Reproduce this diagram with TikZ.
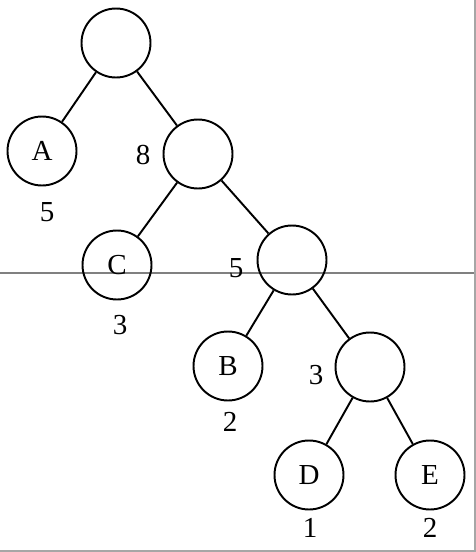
\documentclass[tikz,border=0pt]{standalone}
\usepackage{fontspec}
\setmainfont{Liberation Serif}
\tikzset{
  vertex/.style={circle, draw, line width=1.1pt, minimum size=1.38cm, inner sep=0pt, font=\fontsize{16.5}{18}\selectfont},
  weight/.style={font=\fontsize{16.5}{18}\selectfont, inner sep=0pt}
}
\begin{document}
\begin{tikzpicture}[x=0.02cm, y=-0.02cm]
    \useasboundingbox (0,0) rectangle (476,552);
    % scan lines of the page
    \draw[gray, line width=0.6pt] (0,273) -- (476,273);
    \draw[gray!70, line width=0.8pt] (475,0) -- (475,551) -- (0,551);

    % Tree nodes, top to bottom
    \node[vertex] (R) at (116, 43) {};
    \node[vertex] (A) at (42, 151) {A};
    \node[vertex] (N8) at (198, 154) {};
    \node[vertex] (C) at (117, 265) {C};
    \node[vertex] (N5) at (292, 260) {};
    \node[vertex] (B) at (228, 366) {B};
    \node[vertex] (N3) at (370, 367) {};
    \node[vertex] (D) at (309, 475) {D};
    \node[vertex] (E) at (430, 475) {E};

    % Weights
    \node[weight] (wA) at (47, 212) {5};
    \node[weight] (w8) at (143, 155) {8};
    \node[weight] (wC) at (120, 325) {3};
    \node[weight] (w5) at (236, 268) {5};
    \node[weight] (wB) at (230, 422) {2};
    \node[weight] (w3) at (316, 375) {3};
    \node[weight] (wD) at (310, 528) {1};
    \node[weight] (wE) at (430, 528) {2};

    % Edges
    \draw[line width=1.1pt] (R) -- (A);
    \draw[line width=1.1pt] (R) -- (N8);
    \draw[line width=1.1pt] (N8) -- (C);
    \draw[line width=1.1pt] (N8) -- (N5);
    \draw[line width=1.1pt] (N5) -- (B);
    \draw[line width=1.1pt] (N5) -- (N3);
    \draw[line width=1.1pt] (N3) -- (D);
    \draw[line width=1.1pt] (N3) -- (E);
\end{tikzpicture}
\end{document}
